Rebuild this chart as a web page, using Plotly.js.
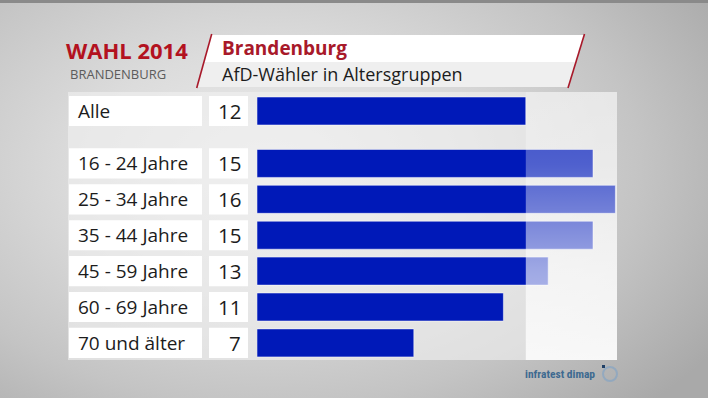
<!DOCTYPE html>
<html>
<head>
<meta charset="utf-8">
<script src="https://cdn.plot.ly/plotly-3.0.1.min.js"></script>
<style>
  html, body { margin:0; padding:0; width:708px; height:398px; overflow:hidden; }
  body {
    background:
      radial-gradient(ellipse 75% 85% at 38% 42%, #ececec 0%, #dcdcdc 35%, #c4c4c4 70%, #a9a9a9 100%);
  }
  #top { position:absolute; left:0; top:0; width:708px; height:3px; background:#8a8a8a; }
  #chart { position:absolute; left:0; top:0; width:708px; height:398px; }
</style>
</head>
<body>
<div id="top"></div>
<div id="chart"></div>
<script>
// ---- data ----
const categories = ['Alle', '16 - 24 Jahre', '25 - 34 Jahre', '35 - 44 Jahre', '45 - 59 Jahre', '60 - 69 Jahre', '70 und älter'];
const values = [12, 15, 16, 15, 13, 11, 7];
const headerTitle = 'WAHL 2014';
const headerSub = 'BRANDENBURG';
const chartTitle = 'Brandenburg';
const chartSubtitle = 'AfD-Wähler in Altersgruppen';
const sourceText = 'infratest dimap';

// ---- layout geometry ----
const W = 708, H = 398;
const x0px = 257, pxPerUnit = 22.4, plotRightPx = 617;
const rowPitch = 35.9, firstRowPx = 111, groupGap = 0.46;
const xMax = (plotRightPx - x0px) / pxPerUnit;
const yTop = (0 - firstRowPx) / rowPitch, yBottom = (H - firstRowPx) / rowPitch;
const yPos = categories.map((c, i) => i === 0 ? 0 : i + groupGap);
const pyToY = py => (py - firstRowPx) / rowPitch;
const px = x => x / W, py = y => 1 - y / H;
const pathOf = pts => 'M' + pts.map(p => px(p[0]) + ',' + py(p[1])).join(' L') + ' Z';

const blue = '#0019b8';
const fontMain = 'Open Sans, Noto Sans, sans-serif';

const shapes = [];
const annotations = [];

// panel background
shapes.push({type:'rect', xref:'paper', yref:'paper', x0:px(68), x1:px(plotRightPx), y0:py(92), y1:py(360),
  fillcolor:'rgba(240,240,240,0.62)', line:{width:0}, layer:'below'});

// row boxes + texts
categories.forEach((c, i) => {
  const yc = yPos[i];
  shapes.push({type:'rect', xref:'paper', yref:'y', x0:px(69), x1:px(202), y0:yc - 0.42, y1:yc + 0.42,
    fillcolor:'#ffffff', line:{width:0}, layer:'below'});
  shapes.push({type:'rect', xref:'paper', yref:'y', x0:px(209), x1:px(248), y0:yc - 0.42, y1:yc + 0.42,
    fillcolor:'#ffffff', line:{width:0}, layer:'below'});
  annotations.push({xref:'paper', yref:'y', x:px(76), y:yc, text:c, showarrow:false, xanchor:'left', yanchor:'middle',
    font:{family:fontMain, size:19, color:'#1c1c1c'}});
  annotations.push({xref:'paper', yref:'y', x:px(243), y:yc, text:String(values[i]), showarrow:false, xanchor:'right', yanchor:'middle',
    font:{family:fontMain, size:20.5, color:'#1c1c1c'}});
});

// header box
shapes.push({type:'path', xref:'paper', yref:'paper', path:pathOf([[210.7,35],[584,35],[575.7,62],[203.6,62]]),
  fillcolor:'#ffffff', line:{width:0}});
shapes.push({type:'path', xref:'paper', yref:'paper', path:pathOf([[203.6,62],[575.7,62],[568,87],[197,87]]),
  fillcolor:'#efefef', line:{width:0}});
shapes.push({type:'line', xref:'paper', yref:'paper', x0:px(211.7), y0:py(34), x1:px(196.7), y1:py(88),
  line:{color:'#a8192a', width:1.6}});
shapes.push({type:'line', xref:'paper', yref:'paper', x0:px(584.5), y0:py(34), x1:px(568), y1:py(88),
  line:{color:'#a8192a', width:1.6}});

annotations.push({xref:'paper', yref:'paper', x:px(64), y:py(49.5), text:'<b>' + headerTitle + '</b>', showarrow:false,
  xanchor:'left', yanchor:'middle', font:{family:fontMain, size:22, color:'#b3121f'}});
annotations.push({xref:'paper', yref:'paper', x:px(68), y:py(74), text:headerSub, showarrow:false,
  xanchor:'left', yanchor:'middle', font:{family:fontMain, size:13, color:'#5c5c5c'}});
annotations.push({xref:'paper', yref:'paper', x:px(220), y:py(48), text:'<b>' + chartTitle + '</b>', showarrow:false,
  xanchor:'left', yanchor:'middle', font:{family:fontMain, size:19, color:'#a8192a'}});
annotations.push({xref:'paper', yref:'paper', x:px(220), y:py(74), text:chartSubtitle, showarrow:false,
  xanchor:'left', yanchor:'middle', font:{family:fontMain, size:18, color:'#1c1c1c'}});

// source logo
annotations.push({xref:'paper', yref:'paper', x:px(597), y:py(374), text:'<b>' + sourceText + '</b>', showarrow:false,
  xanchor:'right', yanchor:'middle', font:{family:'Roboto Condensed, Liberation Sans Narrow, Roboto, sans-serif', size:11.5, color:'#3e6a90'}});
shapes.push({type:'circle', xref:'paper', yref:'paper', x0:px(603), x1:px(617), y0:py(367), y1:py(381),
  line:{color:'rgba(120,160,200,0.55)', width:2}});
shapes.push({type:'rect', xref:'paper', yref:'paper', x0:px(602), x1:px(605), y0:py(365), y1:py(368),
  fillcolor:'#1f3f66', line:{width:0}});

const bars = {
  type:'bar', orientation:'h', x:values, y:yPos, width:0.78,
  marker:{color:blue, line:{color:'rgba(255,255,255,0.5)', width:1}},
  hoverinfo:'skip'
};

// light overlay right of the "Alle" value, whiter towards the bottom
const ovTop = pyToY(92), ovBot = pyToY(360);
const overlay = {
  type:'scatter', mode:'none', x:[values[0], xMax, xMax, values[0], values[0]], y:[ovTop, ovTop, ovBot, ovBot, ovTop],
  fill:'toself',
  fillgradient:{type:'vertical', start:ovTop, stop:ovBot,
    colorscale:[[0,'rgba(255,255,255,0.22)'],[0.27,'rgba(255,255,255,0.31)'],[0.66,'rgba(255,255,255,0.62)'],[1,'rgba(255,255,255,0.8)']]},
  hoverinfo:'skip', showlegend:false
};

const layout = {
  width:W, height:H, margin:{l:0, r:0, t:0, b:0},
  paper_bgcolor:'rgba(0,0,0,0)', plot_bgcolor:'rgba(0,0,0,0)',
  showlegend:false,
  xaxis:{domain:[px(x0px), px(plotRightPx)], range:[0, xMax], visible:false, fixedrange:true},
  yaxis:{range:[yBottom, yTop], visible:false, fixedrange:true},
  shapes:shapes, annotations:annotations
};

Plotly.newPlot('chart', [bars, overlay], layout, {displayModeBar:false, staticPlot:true});
</script>
</body>
</html>
